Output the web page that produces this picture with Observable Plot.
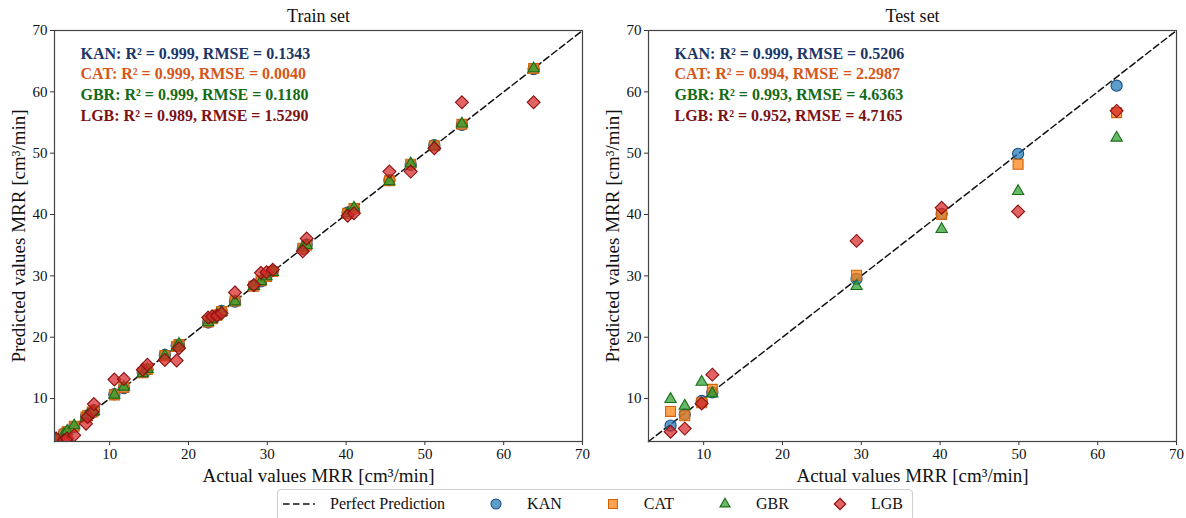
<!DOCTYPE html>
<html>
<head>
<meta charset="utf-8">
<script src="https://cdn.jsdelivr.net/npm/d3@7"></script>
<script src="https://cdn.jsdelivr.net/npm/@observablehq/plot@0.6"></script>
<style>
  body { margin: 0; background: #fff; font-family: "Liberation Serif", "Times New Roman", serif; }
  #wrap { position: relative; width: 1186px; height: 518px; overflow: hidden; }
  #charts { display: flex; }
  #legend { position: absolute; left: 277px; top: 489px; width: 636px; height: 36px; border: 1px solid #cfcfcf; border-radius: 4px; display: flex; align-items: center; box-sizing: border-box; padding-left: 4px; padding-bottom: 6px; background: #fff; white-space: nowrap; }
  .item { display: flex; align-items: center; margin-right: 34px; font-size: 16px; color: #111; flex-shrink: 0; white-space: nowrap; }
  .item svg { margin-right: 14px; flex-shrink: 0; }
</style>
</head>
<body>
<div id="wrap">
  <div id="charts"></div>
  <div id="legend"></div>
</div>
<script>
// ---------- data ----------
const axisLimits = [3, 70];
const tickValues = [10, 20, 30, 40, 50, 60, 70];
const models = ["KAN", "CAT", "GBR", "LGB"];

const trainActual = [3.2, 4.2, 4.6, 5.5, 7.0, 7.2, 7.8, 8.0, 10.6, 11.8, 14.2, 14.8, 17.0, 18.5, 18.8, 22.5, 23.0, 23.6, 24.2, 25.9, 28.3, 29.2, 29.9, 30.7, 34.5, 35.0, 40.2, 41.0, 45.5, 48.2, 51.2, 54.7, 63.8];
const trainKAN = [3.3, 4.3, 4.5, 5.4, 7.1, 7.2, 7.7, 8.1, 10.7, 11.7, 14.3, 14.7, 17.1, 18.6, 18.7, 22.4, 23.1, 23.5, 24.3, 25.8, 28.4, 29.1, 30.0, 30.8, 34.4, 35.1, 40.3, 40.9, 45.6, 48.1, 51.3, 54.6, 63.7];
const trainCAT = [3.2, 4.2, 4.6, 5.5, 7.0, 7.2, 7.8, 8.0, 10.6, 11.8, 14.2, 14.8, 17.0, 18.5, 18.8, 22.5, 23.0, 23.6, 24.2, 25.9, 28.3, 29.2, 29.9, 30.7, 34.5, 35.0, 40.2, 41.0, 45.5, 48.2, 51.2, 54.7, 63.8];
const trainGBR = [3.3, 4.2, 4.7, 5.6, 7.0, 7.3, 7.8, 7.9, 10.6, 11.9, 14.1, 14.8, 17.0, 18.4, 18.9, 22.4, 22.9, 23.6, 24.1, 25.8, 28.3, 29.1, 29.9, 30.6, 34.6, 35.0, 40.2, 41.1, 45.4, 48.3, 51.1, 54.8, 63.8];
const trainLGB = [3.5, 3.2, 3.5, 4.0, 5.9, 7.0, 7.8, 9.1, 13.1, 13.2, 14.7, 15.5, 16.3, 16.2, 18.2, 23.2, 23.4, 23.5, 23.9, 27.3, 28.5, 30.5, 30.6, 31.0, 34.0, 36.1, 39.8, 40.2, 47.0, 47.0, 50.8, 58.3, 58.3];

const testActual = [5.8, 7.6, 9.75, 11.1, 29.4, 40.2, 49.9, 62.4];
const testKAN = [5.6, 7.4, 9.6, 11.0, 29.5, 40.1, 49.9, 61.0];
const testCAT = [7.9, 7.2, 9.3, 11.5, 30.1, 40.0, 48.2, 56.6];
const testGBR = [9.9, 8.8, 12.7, 10.8, 28.3, 37.6, 43.8, 52.5];
const testLGB = [4.6, 5.1, 9.2, 13.9, 35.7, 41.1, 40.5, 56.9];

const trainMetrics = ["KAN: R² = 0.999, RMSE = 0.1343", "CAT: R² = 0.999, RMSE = 0.0040", "GBR: R² = 0.999, RMSE = 0.1180", "LGB: R² = 0.989, RMSE = 1.5290"];
const testMetrics = ["KAN: R² = 0.999, RMSE = 0.5206", "CAT: R² = 0.994, RMSE = 2.2987", "GBR: R² = 0.993, RMSE = 4.6363", "LGB: R² = 0.952, RMSE = 4.7165"];

// ---------- styles ----------
const style = {
  KAN: { symbol: "circle", fill: "#1f77b4", stroke: "#1f4f86", r: 5.6 },
  CAT: { symbol: "square", fill: "#ff7f0e", stroke: "#d0620a", r: 5.6 },
  GBR: { symbol: "triangle", fill: "#2ca02c", stroke: "#1a6e1a", r: 4.2 },
  LGB: { symbol: "diamond2", fill: "#d62728", stroke: "#8b1010", r: 5.8 }
};
const textColors = { KAN: "#1b3566", CAT: "#d6561a", GBR: "#156a16", LGB: "#7e1114" };
const fontFamily = `"Liberation Serif", "Times New Roman", serif`;

function panel(title, actual, preds, metrics, mL, mR) {
  const marks = [
    Plot.line(axisLimits, { x: d => d, y: d => d, stroke: "#111", strokeWidth: 1.5, strokeDasharray: "6.5,3.5" })
  ];
  models.forEach((m, i) => {
    const s = style[m];
    const data = actual.map((a, j) => ({ a, p: preds[i][j] }));
    marks.push(Plot.dot(data, { x: "a", y: "p", symbol: s.symbol, r: s.r, fill: s.fill, fillOpacity: 0.72, stroke: s.stroke, strokeWidth: 1.1, clip: true }));
  });
  metrics.forEach((t, i) => {
    marks.push(Plot.text([t], { frameAnchor: "top-left", textAnchor: "start", lineAnchor: "middle", dx: 26, dy: 23 + i * 20.7, text: d => d, fill: textColors[models[i]], fontWeight: "bold", fontSize: 16 }));
  });
  marks.push(
    Plot.text([title], { frameAnchor: "top", lineAnchor: "middle", dy: -14, text: d => d, fontSize: 18, fill: "#111" }),
    Plot.text(["Actual values MRR [cm³/min]"], { frameAnchor: "bottom", lineAnchor: "middle", dy: 34, text: d => d, fontSize: 19, fill: "#111" }),
    Plot.text(["Predicted values MRR [cm³/min]"], { frameAnchor: "left", textAnchor: "middle", lineAnchor: "middle", dx: -36, rotate: -90, text: d => d, fontSize: 19, fill: "#111" }),
    Plot.axisX({ ticks: tickValues, tickSize: 4, tickPadding: 3, label: null, fontSize: 15, stroke: "#333" }),
    Plot.axisY({ ticks: tickValues, tickSize: 4, tickPadding: 3, label: null, fontSize: 15, stroke: "#333" }),
    Plot.frame({ stroke: "#444", strokeWidth: 1.2 })
  );
  return Plot.plot({
    width: 593, height: 490,
    marginLeft: mL, marginRight: mR, marginTop: 30, marginBottom: 49,
    x: { domain: axisLimits },
    y: { domain: axisLimits },
    style: { fontFamily, color: "#111", background: "transparent", overflow: "visible" },
    marks
  });
}

const charts = document.getElementById("charts");
charts.append(panel("Train set", trainActual, [trainKAN, trainCAT, trainGBR, trainLGB], trainMetrics, 54, 11));
charts.append(panel("Test set", testActual, [testKAN, testCAT, testGBR, testLGB], testMetrics, 55, 10));

// ---------- legend ----------
const legend = d3.select("#legend");
const perfect = legend.append("div").attr("class", "item");
const ps = perfect.append("svg").attr("width", 34).attr("height", 14);
ps.append("line").attr("x1", 1).attr("x2", 33).attr("y1", 7).attr("y2", 7).attr("stroke", "#111").attr("stroke-width", 1.5).attr("stroke-dasharray", "6.5,3.5");
perfect.append("span").text("Perfect Prediction");
const symMap = { circle: d3.symbolCircle, square: d3.symbolSquare, triangle: d3.symbolTriangle, diamond2: d3.symbolDiamond2 };
models.forEach(m => {
  const s = style[m];
  const it = legend.append("div").attr("class", "item");
  const sv = it.append("svg").attr("width", 34).attr("height", 16);
  sv.append("path").attr("transform", "translate(17,8)")
    .attr("d", d3.symbol(symMap[s.symbol], Math.PI * s.r * s.r * 0.8)())
    .attr("fill", s.fill).attr("fill-opacity", 0.72).attr("stroke", s.stroke).attr("stroke-width", 1.1);
  it.append("span").text(m);
});
</script>
</body>
</html>
